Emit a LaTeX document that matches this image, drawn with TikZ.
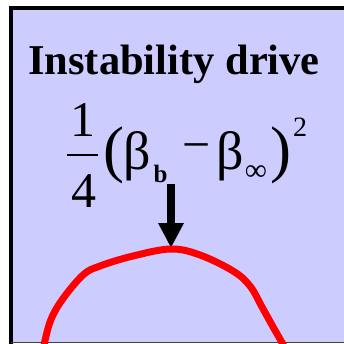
\documentclass[tikz,border=0pt]{standalone}
\usepackage{fontspec}
\setmainfont{Liberation Serif}
\usetikzlibrary{arrows.meta}
\definecolor{lav}{HTML}{CCCCFF}
\definecolor{redc}{HTML}{FF0000}
\tikzset{
  glyph/.style={inner sep=0pt, outer sep=0pt, anchor=center},
  fs/.style={font=\fontsize{#1}{#1}\selectfont},
  fsb/.style={font=\fontsize{#1}{#1}\selectfont\bfseries},
}
\begin{document}
\begin{tikzpicture}[x=1pt,y=-1pt]
\useasboundingbox (0,0) rectangle (344,344);
\fill[white] (0,0) rectangle (344,344);
\fill[lav] (11,8) rectangle (346,342.5);
\draw[line width=4pt] (11,346) -- (11,8) -- (346,8);
\draw[line width=1.5pt, black!75] (11,342.6) -- (346,342.6);
% title
\node[inner sep=0pt, anchor=base west, font=\fontsize{42.5}{50}\selectfont\bfseries] (title) at (28,75) {Instability drive};
% formula
\node[glyph, fs=50] (one) at (82.5,120) {1};
\node[glyph, fs=50] (four) at (83.5,191.5) {4};
\draw[line width=2pt] (67,155) -- (98,155);
\node[glyph, fs=63] (lp) at (113.5,155.5) {(};
\node[glyph, fs=54] (b1) at (137.5,156) {β};
\node[glyph, fsb=25] (sb) at (160.5,173.5) {b};
\node[glyph, fs=50] (minus) at (196.5,153) {−};
\node[glyph, fs=54] (b2) at (230,156) {β};
\node[glyph, fs=31] (inf) at (256,173) {∞};
\node[glyph, fs=63] (rp) at (281,155) {)};
\node[glyph, fs=28] (sq) at (300,127.5) {2};
% arrow
\coordinate (astart) at (171,184);
\coordinate (aend) at (171,248);
\draw[line width=8pt, -{Triangle[width=24pt,length=25pt]}] (astart) -- (aend);
% red curve
\draw[redc, line width=7pt, line cap=round, line join=round]
  plot[smooth, tension=0.6] coordinates {(43,350) (50,322) (62,300) (83,275) (100,266) (133,256) (171,249) (200,255) (233,271) (250,286) (262,307) (272,325) (284,346)};
\end{tikzpicture}
\end{document}
